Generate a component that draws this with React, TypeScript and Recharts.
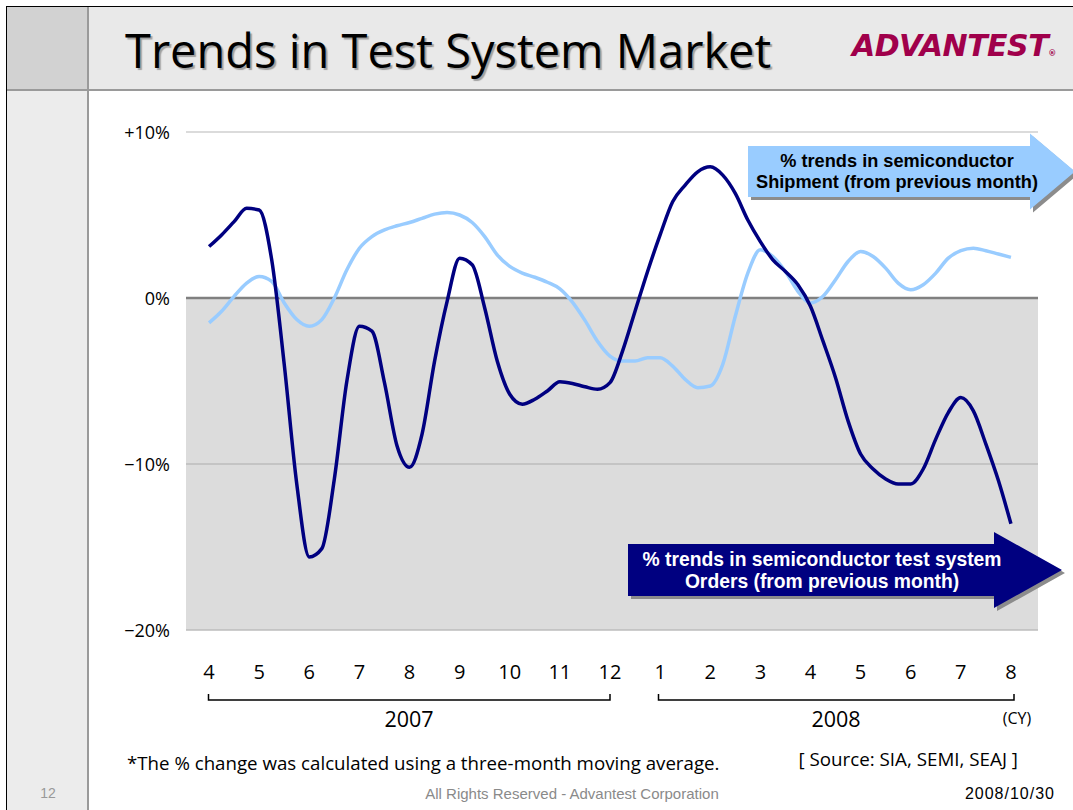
import React from 'react'
import {
  LineChart,
  Line,
  XAxis,
  YAxis,
  ReferenceArea,
  ReferenceLine,
} from 'recharts'

// month labels along the x axis (Apr 2007 .. Aug 2008)
const MONTHS = ['4', '5', '6', '7', '8', '9', '10', '11', '12', '1', '2', '3', '4', '5', '6', '7', '8']

// readings at quarter-month steps, % change from previous month
const ORDERS = [
  3.1, 3.8, 4.6, 5.4, 5.3, 2.3, -4.0, -11.2, -15.6, -15.1, -10.9, -5.0, -1.7,
  -2.0, -5.1, -8.9, -10.2, -8.2, -3.8, -0.2, 2.4, 2.0, -0.6, -3.8, -5.8,
  -6.4, -6.1, -5.6, -5.05, -5.15, -5.35, -5.5, -5.1, -3.2, -0.8, 1.6, 3.8,
  5.8, 6.8, 7.6, 7.9, 7.4, 6.3, 4.7, 3.4, 2.3, 1.6, 0.8, -0.5,
  -2.6, -4.8, -7.4, -9.4, -10.3, -10.9, -11.2, -11.2, -10.3, -8.5, -6.9, -6.0,
  -6.8, -8.8, -11.0, -13.6,
]

const SHIPMENTS = [
  -1.5, -0.8, 0.1, 0.9, 1.3, 1.0, -0.3, -1.3, -1.7, -1.3, 0.0, 1.7, 3.0,
  3.7, 4.1, 4.35, 4.55, 4.8, 5.05, 5.15, 5.0, 4.55, 3.7, 2.6, 1.9,
  1.5, 1.25, 0.95, 0.55, -0.25, -1.35, -2.6, -3.5, -3.8, -3.8, -3.6, -3.6,
  -4.1, -4.9, -5.4, -5.3, -4.0, -1.1, 1.5, 2.9, 2.5, 1.6, 0.4, -0.3,
  0.1, 1.1, 2.2, 2.8, 2.5, 1.8, 0.9, 0.5, 0.8, 1.5, 2.4, 2.85,
  3.0, 2.85, 2.65, 2.45,
]

const Y_TICKS = [-20, -10, 0, 10]
const STEPS_PER_MONTH = 4

const data = ORDERS.map((v, i) => ({
  x: i / STEPS_PER_MONTH,
  orders: v,
  shipments: SHIPMENTS[i],
}))

const FONT = '"Open Sans", "DejaVu Sans", sans-serif'
const ARIAL = '"Liberation Sans", Arial, sans-serif'

const fmtPct = (v: number) => (v > 0 ? `+${v}%` : v < 0 ? `\u2212${-v}%` : '0%')

const XTick = ({ x, y, payload }: any) => (
  <text x={x} y={y + 39} textAnchor="middle" dominantBaseline="central" fontSize={20} fill="#000" fontFamily={FONT}>
    {MONTHS[payload.value]}
  </text>
)

const YTick = ({ x, y, payload }: any) => (
  <text x={x} y={y} textAnchor="end" dominantBaseline="central" fontSize={18} fill="#000" fontFamily={FONT}>
    {fmtPct(payload.value)}
  </text>
)

function Arrow({ x, y, w, h, headW, headH, fill, color, lines, fontSize, lineGap, textX }: any) {
  const my = y + h / 2
  const shape = (d: number) => [
    [x + d, y + d], [x + w + d, y + d], [x + w + d, my - headH / 2 + d], [x + w + headW + d, my + d],
    [x + w + d, my + headH / 2 + d], [x + w + d, y + h + d], [x + d, y + h + d],
  ].map((p) => p.join(',')).join(' ')
  return (
    <g>
      <polygon points={shape(3)} fill="#8c8c8c" />
      <polygon points={shape(0)} fill={fill} />
      <text textAnchor="middle" fontSize={fontSize} fontWeight={700} fill={color} fontFamily={ARIAL}>
        {lines.map((t: string, i: number) => (
          <tspan key={i} x={textX} y={my + (i - 0.5) * lineGap} dominantBaseline="central">{t}</tspan>
        ))}
      </text>
    </g>
  )
}

export default function App() {
  return (
    <div style={{ position: 'absolute', left: 0, top: 0, width: 1073, height: 810, background: '#fff', overflow: 'hidden', fontFamily: FONT }}>
      {/* slide frame */}
      <div style={{ position: 'absolute', left: 7, top: 7, width: 1066, height: 83, background: '#e9e9e9' }} />
      <div style={{ position: 'absolute', left: 7, top: 7, width: 81, height: 83, background: '#d2d2d2' }} />
      <div style={{ position: 'absolute', left: 7, top: 90, width: 81, height: 720, background: '#ececec' }} />
      <div style={{ position: 'absolute', left: 6, top: 6, width: 1067, height: 1, background: '#000' }} />
      <div style={{ position: 'absolute', left: 6, top: 6, width: 1, height: 804, background: '#000' }} />
      <div style={{ position: 'absolute', left: 87, top: 7, width: 2, height: 803, background: '#9a9a9a' }} />
      <div style={{ position: 'absolute', left: 7, top: 89, width: 1066, height: 2, background: '#9a9a9a' }} />

      <div style={{ position: 'absolute', left: 125, top: 20, fontSize: 47, lineHeight: '60px', color: '#000', textShadow: '2px 2px 1px #a0a0a0', whiteSpace: 'nowrap' }}>
        Trends in Test System Market
      </div>
      <div style={{ position: 'absolute', left: 852, top: 29, fontSize: 30, lineHeight: '34px', fontWeight: 700, fontStyle: 'italic', color: '#a0004b', fontFamily: '"DejaVu Sans", sans-serif', letterSpacing: -0.5, whiteSpace: 'nowrap' }}>
        ADVANTEST<span style={{ fontSize: 8, fontStyle: 'normal' }}>®</span>
      </div>

      <LineChart width={1073} height={810} data={data} margin={{ top: 132, right: 35, bottom: 0, left: 106 }}
        style={{ position: 'absolute', left: 0, top: 0 }}>
        <XAxis dataKey="x" type="number" domain={[-0.46, 16.54]} ticks={MONTHS.map((_, i) => i)}
          axisLine={false} tickLine={false} tickSize={0} height={180} tick={<XTick />} allowDataOverflow />
        <YAxis type="number" domain={[-20, 10]} ticks={Y_TICKS} axisLine={false} tickLine={false}
          tickSize={0} tickMargin={16} width={80} tick={<YTick />} />
        <ReferenceArea y1={-20} y2={0} fill="#dcdcdc" fillOpacity={1} stroke="none" />
        <ReferenceLine y={10} stroke="#cfcfcf" strokeWidth={1.5} />
        <ReferenceLine y={-10} stroke="#bdbdbd" strokeWidth={1.5} />
        <ReferenceLine y={-20} stroke="#bdbdbd" strokeWidth={1.5} />
        <ReferenceLine y={0} stroke="#808080" strokeWidth={2.5} />
        <Line type="monotone" dataKey="shipments" stroke="#99ccff" strokeWidth={3.5} dot={false} isAnimationActive={false} />
        <Line type="monotone" dataKey="orders" stroke="#000080" strokeWidth={3.5} dot={false} isAnimationActive={false} />
      </LineChart>

      <svg width={1073} height={810} style={{ position: 'absolute', left: 0, top: 0, pointerEvents: 'none' }}>
        <Arrow x={748} y={146} w={282} h={51} headW={45} headH={76} fill="#99ccff" color="#000" fontSize={18.2} lineGap={21} textX={897}
          lines={['% trends in semiconductor', 'Shipment (from previous month)']} />
        <Arrow x={628} y={544} w={366} h={52} headW={68} headH={76} fill="#000080" color="#fff" fontSize={19.3} lineGap={22} textX={822}
          lines={['% trends in semiconductor test system', 'Orders (from previous month)']} />
        {/* year brackets */}
        <path d="M208.5,694 V700 H610 V694" fill="none" stroke="#000" strokeWidth={1.5} />
        <path d="M658.5,694 V700 H1014 V694" fill="none" stroke="#000" strokeWidth={1.5} />
        <text x={409} y={718} textAnchor="middle" dominantBaseline="central" fontSize={21.5} fontFamily={FONT}>2007</text>
        <text x={836} y={718} textAnchor="middle" dominantBaseline="central" fontSize={21.5} fontFamily={FONT}>2008</text>
        <text x={1017} y={718} textAnchor="middle" dominantBaseline="central" fontSize={16} fontFamily={FONT}>(CY)</text>
        <text x={127} y={762} dominantBaseline="central" fontSize={18.7} fontFamily={FONT}>
          *The % change was calculated using a three-month moving average.
        </text>
        <text x={1018} y={759} textAnchor="end" dominantBaseline="central" fontSize={18.8} fontFamily={FONT}>
          [ Source: SIA, SEMI, SEAJ ]
        </text>
        <text x={48} y={793} textAnchor="middle" dominantBaseline="central" fontSize={14} fill="#999" fontFamily={ARIAL}>12</text>
        <text x={572} y={793} textAnchor="middle" dominantBaseline="central" fontSize={15} fill="#8a8a8a" fontFamily={ARIAL}>
          All Rights Reserved - Advantest Corporation
        </text>
        <text x={1055} y={793} textAnchor="end" dominantBaseline="central" fontSize={16} letterSpacing={1} fill="#000" fontFamily={ARIAL}>2008/10/30</text>
      </svg>
    </div>
  )
}
